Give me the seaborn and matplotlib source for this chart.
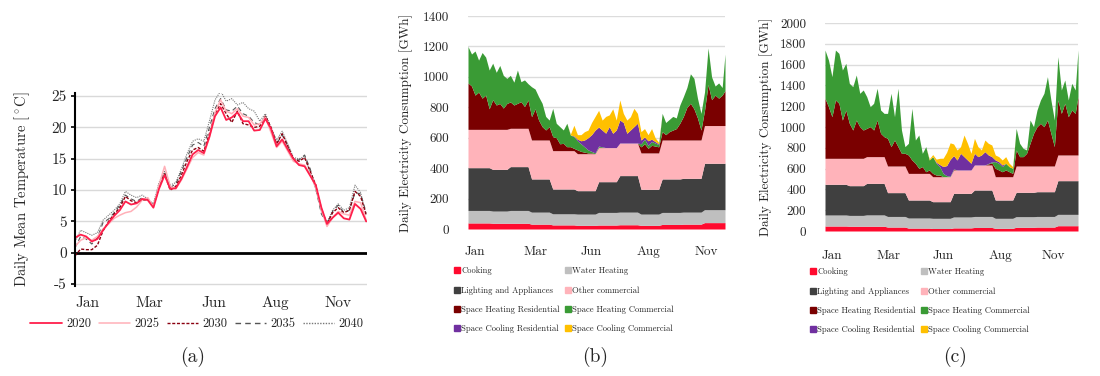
import numpy as np
import pandas as pd
import seaborn as sns
import matplotlib.pyplot as plt
from matplotlib.lines import Line2D

sns.set_style('white')
plt.rcParams['font.family'] = ['cmr10', 'DejaVu Serif']
plt.rcParams['mathtext.fontset'] = 'cm'
plt.rcParams['axes.unicode_minus'] = False

# ---------------- (a) daily mean temperature, sampled weekly ----------------
temp_days = [0, 7, 14, 21, 28, 35, 42, 49, 56, 63,
             70, 77, 84, 91, 98, 105, 112, 119, 126, 133,
             140, 147, 154, 161, 168, 175, 182, 189, 196, 203,
             210, 217, 224, 231, 238, 245, 252, 259, 266, 273,
             280, 287, 294, 301, 308, 315, 322, 329, 336, 343,
             350, 357, 364]
t2020 = [2.4, 2.9, 2.6, 1.8, 2.2, 3.6, 4.8, 5.9, 6.8, 8.2,
         7.7, 7.9, 8.6, 8.4, 7.2, 10.2, 12.4, 10.2, 10.3, 11.8,
         13.7, 15.7, 16.4, 15.9, 18.5, 21.8, 23.2, 21.2, 21.6, 22.4,
         21.0, 21.0, 19.5, 19.6, 21.4, 19.8, 17.0, 18.1, 16.5, 15.0,
         14.0, 13.8, 12.3, 10.8, 7.2, 4.6, 5.6, 6.4, 5.5, 5.3,
         7.8, 7.0, 5.0]
t2025 = [1.0, 2.0, 2.4, 2.0, 2.6, 3.8, 4.6, 5.5, 6.0, 6.4,
         6.6, 7.3, 8.4, 8.8, 7.4, 10.8, 13.8, 10.6, 10.2, 11.6,
         13.4, 15.2, 16.0, 15.6, 18.4, 22.4, 24.4, 22.6, 22.2, 23.0,
         21.8, 21.6, 20.4, 20.6, 21.6, 19.2, 16.8, 17.8, 16.2, 14.6,
         14.2, 14.0, 12.5, 10.4, 6.8, 4.2, 5.6, 6.6, 6.2, 6.0,
         8.2, 8.0, 5.2]
t2030 = [-0.5, 0.6, 0.5, 0.5, 1.2, 3.5, 5.0, 6.2, 7.2, 9.0,
         8.3, 8.0, 8.4, 8.5, 7.4, 10.4, 12.6, 10.0, 10.6, 12.4,
         14.6, 16.4, 16.8, 16.2, 19.0, 22.2, 23.8, 22.2, 20.8, 22.6,
         20.6, 20.4, 20.0, 20.2, 21.8, 20.0, 17.4, 19.0, 17.0, 15.0,
         14.6, 15.2, 13.0, 10.8, 7.0, 4.6, 6.4, 7.2, 6.4, 6.8,
         9.8, 9.0, 6.0]
t2035 = [0.8, 2.6, 2.2, 1.4, 2.4, 4.8, 5.4, 6.4, 7.6, 9.2,
         8.6, 8.2, 8.8, 8.6, 7.6, 10.8, 12.8, 10.4, 11.0, 13.0,
         15.2, 17.2, 17.6, 17.0, 20.0, 23.0, 24.6, 22.8, 22.6, 23.4,
         22.2, 21.8, 20.8, 20.4, 21.8, 19.6, 17.4, 18.8, 17.0, 15.0,
         14.8, 15.6, 13.4, 10.2, 6.2, 4.6, 6.6, 7.6, 6.4, 6.8,
         9.6, 9.4, 6.4]
t2040 = [1.8, 3.6, 3.2, 2.8, 3.2, 5.2, 6.0, 6.8, 7.8, 9.8,
         9.2, 8.8, 9.2, 8.6, 7.8, 11.2, 13.0, 10.8, 11.2, 13.4,
         15.8, 17.8, 18.2, 17.8, 21.0, 24.4, 25.8, 24.2, 24.6, 23.6,
         24.0, 23.0, 22.6, 21.0, 22.2, 20.0, 18.0, 19.4, 17.4, 15.2,
         15.0, 15.4, 12.8, 10.2, 6.6, 4.8, 6.8, 7.8, 6.8, 7.2,
         10.8, 9.6, 6.0]

years = ['2020', '2025', '2030', '2035', '2040']
year_colors = ['#ff1f4b', '#ffb0b8', '#8b0010', '#555555', '#777777']
year_dashes = [(None, None), (None, None), (2.2, 1.2), (4, 3), (1, 1)]
year_widths = [1.3, 1.1, 1.0, 0.8, 0.8]

# ---------------- (b)/(c) daily electricity, sampled every 5 days ----------------
month_starts = [0, 31, 59, 90, 120, 151, 181, 212, 243, 273, 304, 334]
elec_days = [0, 5, 10, 15, 20, 25, 30, 35, 40, 45,
             50, 55, 60, 65, 70, 75, 80, 85, 90, 95,
             100, 105, 110, 115, 120, 125, 130, 135, 140, 145,
             150, 155, 160, 165, 170, 175, 180, 185, 190, 195,
             200, 205, 210, 215, 220, 225, 230, 235, 240, 245,
             250, 255, 260, 265, 270, 275, 280, 285, 290, 295,
             300, 305, 310, 315, 320, 325, 330, 335, 340, 345,
             350, 355, 360, 364]

# monthly levels (GWh/day)
cook_b = [40, 38, 38, 32, 27, 24, 26, 28, 24, 30, 32, 42]
water_b = [82, 80, 84, 79, 73, 74, 83, 83, 74, 79, 79, 85]
light_b = [281, 274, 288, 218, 163, 154, 202, 240, 163, 220, 222, 305]
other_b = [252, 263, 252, 256, 252, 243, 224, 214, 239, 256, 252, 248]

shres_b = [305, 285, 225, 245, 205, 225, 135, 195, 160, 170,
           140, 170, 173, 153, 164, 175, 143, 186, 153, 205,
           131, 88, 66, 88, 92, 85, 45, 48, 26, 26,
           15, 25, 15, 10, 5, 5, 0, 3, 1, 0,
           0, 0, 0, 0, 0, 0, 0, 0, 0, 40,
           60, 30, 50, 45, 40, 55, 35, 55, 65, 75,
           110, 155, 215, 241, 205, 145, 65, 100, 270, 170,
           200, 180, 200, 230]
shcom_b = [240, 210, 290, 210, 300, 250, 255, 240, 215, 250,
           215, 165, 175, 150, 219, 131, 175, 107, 197, 130,
           154, 153, 89, 43, 186, 95, 113, 88, 154, 77,
           77, 60, 50, 35, 20, 10, 5, 7, 4, 0,
           0, 0, 0, 0, 0, 0, 0, 0, 0, 20,
           30, 20, 25, 20, 15, 120, 80, 80, 90, 70,
           120, 130, 130, 194, 200, 130, 110, 120, 240, 150,
           60, 100, 50, 240]
scres_b = [0] * 30 + [5, 10, 20, 45, 80, 110, 150, 125, 110, 95,
                      138, 94, 116, 151, 135, 64, 86, 108, 130, 25,
                      15, 30, 15, 10, 5] + [0] * 19
sccom_b = [0] * 29 + [5,
                      70, 30, 40, 55, 50, 80, 90, 110, 66, 110,
                      77, 161, 65, 132, 60, 87, 87, 120, 65, 55,
                      55, 40, 70, 25, 10] + [0] * 19

cook_c = [48, 46, 46, 38, 28, 24, 30, 34, 26, 36, 38, 51]
water_c = [106, 104, 109, 102, 97, 98, 105, 106, 96, 102, 102, 109]
light_c = [295, 286, 303, 229, 173, 160, 227, 254, 176, 234, 238, 324]
other_c = [250, 263, 257, 256, 256, 240, 225, 241, 224, 253, 247, 247]

shres_c = [577, 496, 400, 561, 529, 368, 464, 336, 272, 368,
           304, 272, 272, 288, 256, 352, 224, 192, 266, 186,
           250, 186, 122, 122, 177, 129, 97, 49, 65, 16,
           33, 32, 16, 16, 0, 0, 0, 5, 0, 0,
           0, 0, 0, 0, 0, 0, 0, 10, 20, 81,
           65, 48, 65, 48, 32, 154, 90, 90, 122, 218,
           314, 378, 410, 378, 442, 314, 186, 529, 400, 497,
           368, 432, 400, 561]
shcom_c = [464, 449, 385, 480, 480, 481, 449, 385, 417, 433,
           321, 385, 305, 192, 257, 305, 224, 224, 240, 513,
           224, 561, 224, 64, 112, 496, 224, 320, 128, 241,
           96, 161, 113, 81, 32, 10, 5, 5, 0, 0,
           0, 0, 0, 0, 0, 0, 0, 5, 10, 64,
           64, 49, 64, 49, 49, 208, 128, 80, 32, 224,
           64, 160, 225, 321, 417, 321, 256, 416, 225, 224,
           161, 257, 225, 448]
scres_c = [0] * 30 + [0, 0, 10, 20, 66, 97, 161, 128, 96, 160,
                      128, 96, 64, 112, 80, 96, 128, 81, 50, 16,
                      16, 16, 0, 0, 0] + [0] * 19
sccom_c = [0] * 30 + [10, 20, 30, 60, 80, 128, 160, 112, 96, 64,
                      208, 160, 96, 144, 96, 48, 112, 112, 112, 48,
                      48, 48, 64, 32, 16] + [0] * 19

end_uses = ['Cooking', 'Water Heating', 'Lighting and Appliances', 'Other commercial',
            'Space Heating Residential', 'Space Heating Commercial',
            'Space Cooling Residential', 'Space Cooling Commercial']
use_colors = ['#ff0a2e', '#bfbfbf', '#404040', '#ffb3ba',
              '#7a0000', '#3a9b35', '#7030a0', '#ffc000']

W, H = 1100, 376
fig = plt.figure(figsize=(11, 3.76), dpi=100)


def box(x0, x1, y0, y1):
    return [x0 / W, 1 - y1 / H, (x1 - x0) / W, (y1 - y0) / H]


# ---- panel (a)
ax_a = fig.add_axes(box(75, 367, 93, 286))
temp = pd.DataFrame({'day': temp_days * 5,
                     'temp': t2020 + t2025 + t2030 + t2035 + t2040,
                     'year': sum([[y] * len(temp_days) for y in years], [])})
for y_, c, d, lw in list(zip(years, year_colors, year_dashes, year_widths))[::-1]:
    sub = temp[temp['year'] == y_]
    sns.lineplot(data=sub, x='day', y='temp', color=c, lw=lw, ax=ax_a, legend=False)
    if d[0] is not None:
        ax_a.lines[-1].set_dashes(d)
for y_ in range(-5, 30, 5):
    ax_a.axhline(y_, color='#d9d9d9', lw=1, zorder=0)
ax_a.axhline(0, color='black', lw=2, zorder=1)
ax_a.set_xlim(0, 365)
ax_a.set_ylim(-5.3, 25.5)
ax_a.set_yticks(range(-5, 30, 5))
ax_a.set_yticklabels([str(v) for v in range(-5, 30, 5)], fontsize=11)
ax_a.set_xticks([15, 93, 173, 251, 329])
ax_a.set_xticklabels(['Jan', 'Mar', 'Jun', 'Aug', 'Nov'], fontsize=11)
ax_a.tick_params(axis='y', left=True, length=3, width=1.2, color='black', pad=3)
ax_a.tick_params(axis='x', bottom=False, pad=4)
for s in ['top', 'right', 'bottom']:
    ax_a.spines[s].set_visible(False)
ax_a.spines['left'].set_color('black')
ax_a.spines['left'].set_linewidth(1.5)
ax_a.set_xlabel('')
ax_a.set_ylabel(r'Daily Mean Temperature [$^\circ$C]', fontsize=10.5)
ax_a.yaxis.set_label_coords(-0.147, 0.5)

handles_a = []
for y_, c, d, lw in zip(years, year_colors, year_dashes, year_widths):
    h = Line2D([], [], color=c, lw=max(lw, 1.0))
    if d[0] is not None:
        h.set_dashes(d)
    handles_a.append(h)
fig.legend(handles_a, years, loc='center', bbox_to_anchor=(197 / W, 1 - 324 / H),
           ncol=5, frameon=False, fontsize=9, handlelength=2.5,
           columnspacing=0.6, handletextpad=0.35)


# ---- panels (b) and (c)
def stacked(ax, cook, water, light, other, shres, shcom, scres, sccom, ymax, ystep):
    m = np.searchsorted(month_starts, elec_days, side='right') - 1
    layers = [np.array(cook)[m], np.array(water)[m], np.array(light)[m],
              np.array(other)[m], shres, shcom, scres, sccom]
    ax.stackplot(elec_days, *layers, colors=use_colors, linewidth=0, zorder=2)
    for v in range(0, ymax + 1, ystep):
        ax.axhline(v, color='#dcdcdc', lw=1, zorder=0)
    ax.set_xlim(0, 364)
    ax.set_ylim(0, ymax)
    ax.set_yticks(range(0, ymax + 1, ystep))
    ax.set_yticklabels([str(v) for v in range(0, ymax + 1, ystep)], fontsize=9.5)
    ax.tick_params(left=False, bottom=False)
    for s in ax.spines.values():
        s.set_visible(False)
    ax.set_ylabel('Daily Electricity Consumption [GWh]', fontsize=9.5)


ax_b = fig.add_axes(box(468, 725, 16, 229))
stacked(ax_b, cook_b, water_b, light_b, other_b, shres_b, shcom_b, scres_b, sccom_b, 1400, 200)
ax_b.set_xticks([10, 95, 175, 255, 338])
ax_b.set_xticklabels(['Jan', 'Mar', 'Jun', 'Aug', 'Nov'], fontsize=9.5)
ax_b.tick_params(axis='x', pad=9)
ax_b.tick_params(axis='y', pad=10)
ax_b.yaxis.set_label_coords(-0.215, 0.5)

ax_c = fig.add_axes(box(825, 1078, 23, 231))
stacked(ax_c, cook_c, water_c, light_c, other_c, shres_c, shcom_c, scres_c, sccom_c, 2000, 200)
ax_c.set_xticks([10, 91, 170, 253, 328])
ax_c.set_xticklabels(['Jan', 'Mar', 'Jun', 'Aug', 'Nov'], fontsize=9.5)
ax_c.tick_params(axis='x', pad=10)
ax_c.tick_params(axis='y', pad=10)
ax_c.yaxis.set_label_coords(-0.205, 0.5)

order = [0, 2, 4, 6, 1, 3, 5, 7]
handles_u = [Line2D([], [], marker='s', ls='', color=use_colors[i], markersize=4.2) for i in order]
labels_u = [end_uses[i] for i in order]
for x0, y0 in [(454, 267), (810, 268)]:
    fig.legend(handles_u, labels_u, loc='upper left', bbox_to_anchor=(x0 / W, 1 - y0 / H),
               ncol=2, frameon=False, fontsize=6.2, labelspacing=1.25,
               handlelength=0.6, handletextpad=0.25, columnspacing=0.6,
               borderpad=0, borderaxespad=0)

for x0, lab in [(193, '(a)'), (595, '(b)'), (955, '(c)')]:
    fig.text(x0 / W, 1 - 357 / H, lab, ha='center', va='center', fontsize=14)

fig.savefig('out.png', dpi=100)
